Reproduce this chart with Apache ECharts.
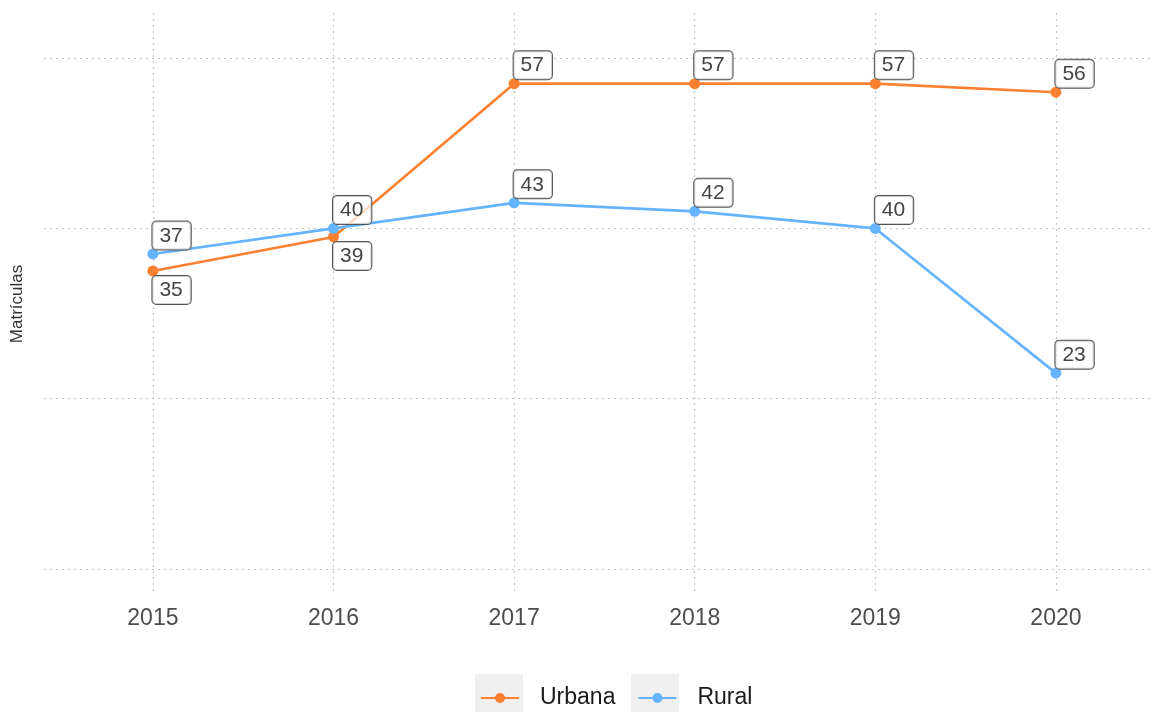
<!DOCTYPE html>
<html>
<head>
<meta charset="utf-8">
<style>
  html, body { margin: 0; padding: 0; background: #ffffff; }
  #chart { width: 1152px; height: 712px; }
</style>
<script src="https://cdn.jsdelivr.net/npm/echarts@6/dist/echarts.min.js"></script>
</head>
<body>
<div id="chart"></div>
<script>
// Matrículas por localização (2015–2020)
const years = [2015, 2016, 2017, 2018, 2019, 2020];
const urbana = [35, 39, 57, 57, 57, 56];
const rural = [37, 40, 43, 42, 40, 23];
const yTicks = [0, 20, 40, 60];

const FONT = '"Liberation Sans", Arial, Helvetica, sans-serif';
const ORANGE = '#fb8030';
const BLUE = '#66b3ff';

// Label sits below the point when the series runs just under the other one
function buildData(values, other) {
  return values.map((v, i) => {
    const below = v < other[i] && other[i] - v < 10;
    return {
      value: [years[i], v],
      label: below
        ? { position: [5, 10.5], verticalAlign: 'top' }
        : { position: [5, 1], verticalAlign: 'bottom' }
    };
  });
}

const labelStyle = {
  show: true,
  formatter: p => String(p.value[1]),
  align: 'left',
  fontFamily: FONT,
  fontSize: 21,
  lineHeight: 21,
  color: '#444444',
  backgroundColor: 'rgba(255,255,255,0.72)',
  borderColor: '#555555',
  borderWidth: 1,
  borderRadius: 4,
  padding: [4, 8, 3, 7]
};

const gridDots = { color: '#c6c6c6', width: 1.2, type: [2, 4] };

function lineSeries(name, values, other, color) {
  return {
    name: name,
    type: 'line',
    data: buildData(values, other),
    symbol: 'circle',
    symbolSize: 11,
    lineStyle: { color: color, width: 2.6 },
    itemStyle: { color: color },
    label: labelStyle,
    emphasis: { disabled: true },
    animation: false
  };
}

const chart = echarts.init(document.getElementById('chart'), null, { renderer: 'canvas' });

chart.setOption({
  backgroundColor: '#ffffff',
  animation: false,
  textStyle: { fontFamily: FONT },
  grid: { left: 44, top: 13, right: 0, bottom: 117, containLabel: false },
  xAxis: {
    type: 'value',
    min: 2014.397,
    max: 2020.532,
    axisLine: { show: false },
    axisTick: { show: false, customValues: years },
    axisLabel: {
      customValues: years,
      formatter: v => String(v),
      fontFamily: FONT,
      fontSize: 23,
      color: '#4d4d4d',
      margin: 12
    },
    splitLine: { show: true, lineStyle: gridDots }
  },
  yAxis: {
    type: 'value',
    min: -3.06,
    max: 65.3,
    name: 'Matrículas',
    nameLocation: 'middle',
    nameRotate: 90,
    nameGap: 18,
    nameTextStyle: { fontFamily: FONT, fontSize: 17, color: '#333333' },
    axisLine: { show: false },
    axisTick: { show: false, customValues: yTicks },
    axisLabel: { show: false, customValues: yTicks },
    splitLine: { show: true, lineStyle: gridDots }
  },
  legend: {
    data: ['Urbana', 'Rural'],
    left: 480,
    top: 685,
    padding: 0,
    itemWidth: 38,
    itemHeight: 12.5,
    itemGap: 22,
    selectedMode: false,
    textStyle: {
      fontFamily: FONT,
      fontSize: 23,
      lineHeight: 26,
      color: '#1a1a1a',
      padding: [0, 0, 0, 16]
    }
  },
  graphic: [
    { type: 'rect', left: 475, top: 674, shape: { width: 48, height: 38 }, style: { fill: '#f0f0f0' }, z: -10 },
    { type: 'rect', left: 631, top: 674, shape: { width: 48, height: 38 }, style: { fill: '#f0f0f0' }, z: -10 }
  ],
  series: [
    lineSeries('Urbana', urbana, rural, ORANGE),
    lineSeries('Rural', rural, urbana, BLUE)
  ]
});
</script>
</body>
</html>
